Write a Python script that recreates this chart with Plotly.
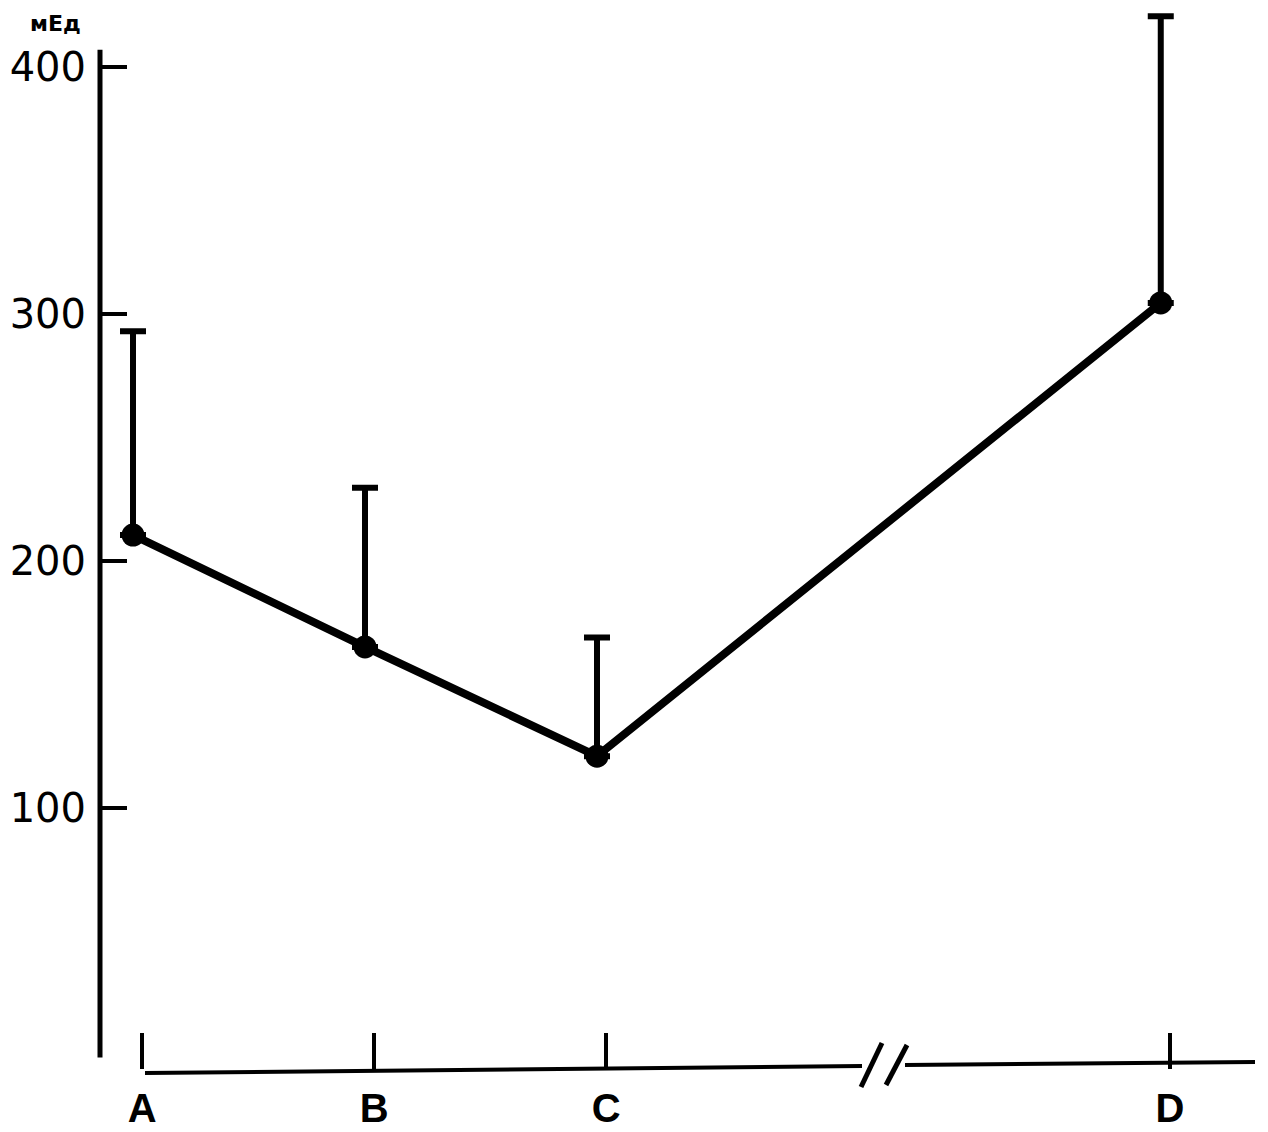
import plotly.graph_objects as go

# ---- data ----
categories = ["A", "B", "C", "D"]
x_pos = [0.0, 1.0, 2.0, 4.43]          # D sits after an axis break
means = [210.5, 165.2, 121.0, 304.5]
err_upper = [82.5, 64.5, 48.0, 116.0]
y_ticks = [100, 200, 300, 400]
unit_label = "мЕд"

W, H = 1268, 1132
OFF = 8  # page body margin shifts the figure by 8px
px_per_unit_x = 232.0
px_per_unit_y = 2.47
x0 = -(133.0 - OFF) / px_per_unit_x
x1 = x0 + W / px_per_unit_x
y_top = (1055.0 - OFF) / px_per_unit_y
y_bot = (1055.0 - OFF - H) / px_per_unit_y
y_range = [y_bot, y_top]

def px_x(p):
    return x0 + (p - OFF) / px_per_unit_x

def ypap(py):
    return 1 - (py - OFF) / H

fig = go.Figure()
fig.add_trace(go.Scatter(
    x=x_pos, y=means, mode="lines+markers",
    line=dict(color="black", width=8),
    marker=dict(color="black", size=23),
    error_y=dict(type="data", symmetric=False, array=err_upper,
                 arrayminus=[0] * len(means), color="black",
                 thickness=6, width=13),
    showlegend=False, hoverinfo="skip",
))

shapes = []
# y axis line
shapes.append(dict(type="line", xref="x", yref="y",
                   x0=px_x(100), x1=px_x(100), y0=-1, y1=407,
                   line=dict(color="black", width=5)))
# x axis baseline (two pieces around a break), slightly sloped like the scan
shapes.append(dict(type="line", xref="x", yref="paper",
                   x0=px_x(145), x1=px_x(862), y0=ypap(1073), y1=ypap(1066),
                   line=dict(color="black", width=4)))
shapes.append(dict(type="line", xref="x", yref="paper",
                   x0=px_x(905), x1=px_x(1255), y0=ypap(1065), y1=ypap(1062),
                   line=dict(color="black", width=4)))
# break marks
shapes.append(dict(type="line", xref="x", yref="paper",
                   x0=px_x(861), x1=px_x(882), y0=ypap(1087), y1=ypap(1043),
                   line=dict(color="black", width=5)))
shapes.append(dict(type="line", xref="x", yref="paper",
                   x0=px_x(886), x1=px_x(907), y0=ypap(1085), y1=ypap(1045),
                   line=dict(color="black", width=5)))

tick_offset = 0.04
fig.update_layout(
    width=W, height=H,
    margin=dict(l=0, r=0, t=0, b=0),
    paper_bgcolor="white", plot_bgcolor="white",
    font=dict(family="DejaVu Sans, Liberation Sans, sans-serif", color="black"),
    xaxis=dict(range=[x0, x1], showgrid=False, zeroline=False, showline=False,
               tickmode="array", tickvals=[x + tick_offset for x in x_pos],
               ticktext=[f"<b>{c}</b>" for c in categories],
               ticks="inside", ticklen=36, tickwidth=4, tickcolor="black",
               anchor="free", position=ypap(1069),
               tickfont=dict(size=40, family="Liberation Sans, Arial, sans-serif"),
               ticklabelstandoff=12),
    yaxis=dict(range=y_range, showgrid=False, zeroline=False, showline=False,
               tickmode="array", tickvals=y_ticks,
               ticks="inside", ticklen=26, tickwidth=4, tickcolor="black",
               anchor="free", position=(100 - OFF) / W, side="left",
               tickfont=dict(size=40), ticklabelstandoff=14),
    shapes=shapes,
    annotations=[dict(text=f"<b>{unit_label}</b>", xref="paper", yref="paper",
                      x=(55 - OFF) / W, y=1, yanchor="top", xanchor="center",
                      yshift=-1, showarrow=False, font=dict(size=22))],
)

fig.write_html("out.html")
